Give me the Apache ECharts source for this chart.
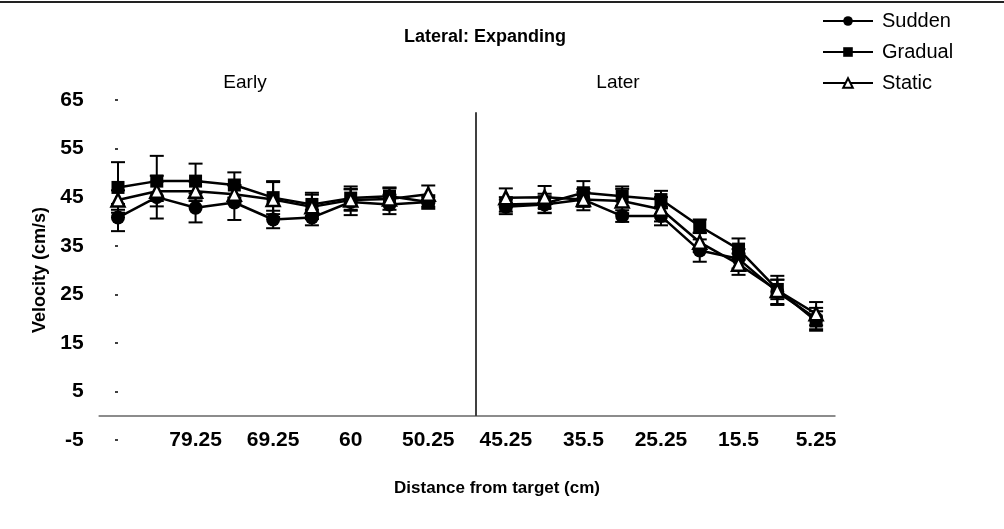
<!DOCTYPE html>
<html>
<head>
<meta charset="utf-8">
<script src="https://cdn.jsdelivr.net/npm/echarts@6/dist/echarts.min.js"></script>
<style>
html, body { margin: 0; padding: 0; background: #fff; }
#chart { width: 1004px; height: 529px; }
</style>
</head>
<body>
<div id="chart"></div>
<script>
// x positions: 9 early points, one empty slot, 9 later points
let xLabels = ['', '', '79.25', '', '69.25', '', '60', '', '50.25', '',
    '45.25', '', '35.5', '', '25.25', '', '15.5', '', '5.25']
let yTicks = [-5, 5, 15, 25, 35, 45, 55, 65]

let sudden = [40.8, 45.0, 42.8, 43.9, 40.4, 40.8, 44.0, 43.5, 44.0, null,
    43.0, 43.5, 44.5, 41.1, 41.1, 34.0, 32.3, 25.5, 20.0]
let gradual = [47.0, 48.3, 48.3, 47.5, 44.9, 43.5, 44.8, 45.2, 44.0, null,
    43.5, 43.7, 45.9, 45.2, 44.5, 39.0, 34.3, 26.0, 19.5]
let staticV = [44.4, 46.2, 46.2, 45.6, 44.5, 43.0, 44.4, 44.6, 45.6, null,
    44.9, 45.0, 44.5, 44.2, 42.5, 35.7, 31.2, 25.8, 21.0]

let suddenErr = [2.8, 4.4, 3.0, 3.6, 1.8, 1.6, 2.7, 2.0, 1.0, null,
    1.5, 1.7, 1.5, 1.2, 1.9, 2.3, 2.0, 2.5, 2.2]
let gradualErr = [5.2, 5.2, 3.6, 2.6, 3.4, 2.4, 2.4, 1.8, 1.4, null,
    1.5, 2.0, 2.4, 2.0, 1.8, 1.4, 2.2, 2.0, 2.0]
let staticErr = [2.0, 2.0, 2.0, 1.8, 3.6, 2.5, 2.2, 2.2, 1.8, null,
    1.9, 2.3, 2.2, 2.5, 2.5, 2.0, 2.2, 3.0, 2.4]

let dividerX = 9.22
let dividerTop = 62.5

function errData(vals, errs) {
    let out = []
    vals.forEach((v, i) => {
        if (v != null) out.push([i, v - errs[i], v + errs[i]])
    })
    return out
}

function renderErr(params, api) {
    let x = api.value(0)
    let lo = api.coord([x, api.value(1)])
    let hi = api.coord([x, api.value(2)])
    let w = 7
    let style = { stroke: '#000', lineWidth: 2 }
    return {
        type: 'group',
        children: [
            { type: 'line', shape: { x1: hi[0], y1: hi[1], x2: lo[0], y2: lo[1] }, style: style },
            { type: 'line', shape: { x1: hi[0] - w, y1: hi[1], x2: hi[0] + w, y2: hi[1] }, style: style },
            { type: 'line', shape: { x1: lo[0] - w, y1: lo[1], x2: lo[0] + w, y2: lo[1] }, style: style }
        ]
    }
}

let lineStyle = { color: '#000', width: 2.5 }
let font = 'Liberation Sans, Arial, sans-serif'

let option = {
    animation: false,
    backgroundColor: '#fff',
    textStyle: { fontFamily: font, color: '#000' },
    graphic: [
        { type: 'line', shape: { x1: 0, y1: 2, x2: 1004, y2: 2 }, style: { stroke: '#222', lineWidth: 2 } },
        { type: 'text', x: 485, y: 37, style: { text: 'Lateral: Expanding', fill: '#000', font: 'bold 18px ' + font, textAlign: 'center', textVerticalAlign: 'middle' } },
        { type: 'text', x: 245, y: 83, style: { text: 'Early', fill: '#000', font: '19px ' + font, textAlign: 'center', textVerticalAlign: 'middle' } },
        { type: 'text', x: 618, y: 83, style: { text: 'Later', fill: '#000', font: '19px ' + font, textAlign: 'center', textVerticalAlign: 'middle' } }
    ],
    legend: {
        orient: 'vertical',
        left: 817,
        top: 6,
        itemWidth: 50,
        itemHeight: 12,
        itemGap: 11,
        textStyle: { fontSize: 20, color: '#000', fontFamily: font, padding: [0, 0, 0, 4] },
        data: ['Sudden', 'Gradual', 'Static']
    },
    grid: {
        left: 98.6,
        right: 168.5,
        top: 100,
        bottom: 89
    },
    xAxis: [{
        type: 'category',
        data: xLabels,
        boundaryGap: true,
        name: 'Distance from target (cm)',
        nameLocation: 'middle',
        nameGap: 40,
        nameTextStyle: { fontSize: 17, fontWeight: 'bold', color: '#000', padding: [0, 0, 0, 60] },
        axisLine: { show: false },
        axisTick: { show: false },
        axisLabel: {
            interval: 0,
            fontSize: 21,
            fontWeight: 'bold',
            color: '#000',
            margin: 0,
            verticalAlign: 'middle'
        },
        splitLine: { show: false }
    }, {
        type: 'value',
        min: -0.5,
        max: 18.5,
        show: false
    }],
    yAxis: {
        type: 'value',
        min: -5,
        max: 65,
        interval: 10,
        name: 'Velocity (cm/s)',
        nameLocation: 'middle',
        nameGap: 46,
        nameTextStyle: { fontSize: 18, fontWeight: 'bold', color: '#000' },
        axisLine: { show: false },
        axisTick: { show: true, length: 3, lineStyle: { color: '#000', width: 1.5 } },
        axisLabel: {
            fontSize: 21,
            fontWeight: 'bold',
            color: '#000',
            margin: 15,
            formatter: v => yTicks.indexOf(v) >= 0 ? String(v) : ''
        },
        splitLine: { show: false }
    },
    series: [{
        name: 'Sudden',
        type: 'line',
        data: sudden,
        symbol: 'circle',
        symbolSize: 14,
        lineStyle: lineStyle,
        itemStyle: { color: '#000' },
        z: 4
    }, {
        name: 'Gradual',
        type: 'line',
        data: gradual,
        symbol: 'rect',
        symbolSize: 13,
        lineStyle: lineStyle,
        itemStyle: { color: '#000' },
        z: 4
    }, {
        name: 'Static',
        type: 'line',
        data: staticV,
        symbol: 'triangle',
        symbolSize: 13,
        lineStyle: lineStyle,
        itemStyle: { color: '#fff', borderColor: '#000', borderWidth: 2.5 },
        z: 5
    }, {
        type: 'custom',
        renderItem: renderErr,
        data: errData(sudden, suddenErr),
        z: 3
    }, {
        type: 'custom',
        renderItem: renderErr,
        data: errData(gradual, gradualErr),
        z: 3
    }, {
        type: 'custom',
        renderItem: renderErr,
        data: errData(staticV, staticErr),
        z: 3
    }, {
        type: 'line',
        xAxisIndex: 1,
        data: [],
        silent: true,
        markLine: {
            symbol: 'none',
            silent: true,
            label: { show: false },
            data: [
                [{ coord: [-0.5, 0], lineStyle: { color: '#666', width: 1.5, type: 'solid' } }, { coord: [18.5, 0] }],
                [{ coord: [dividerX, dividerTop], lineStyle: { color: '#000', width: 1.5, type: 'solid' } }, { coord: [dividerX, 0] }]
            ]
        }
    }]
}

let myChart = echarts.init(document.getElementById('chart'))
myChart.setOption(option)
window.addEventListener('resize', function() {
    myChart.resize()
})
</script>
</body>
</html>
